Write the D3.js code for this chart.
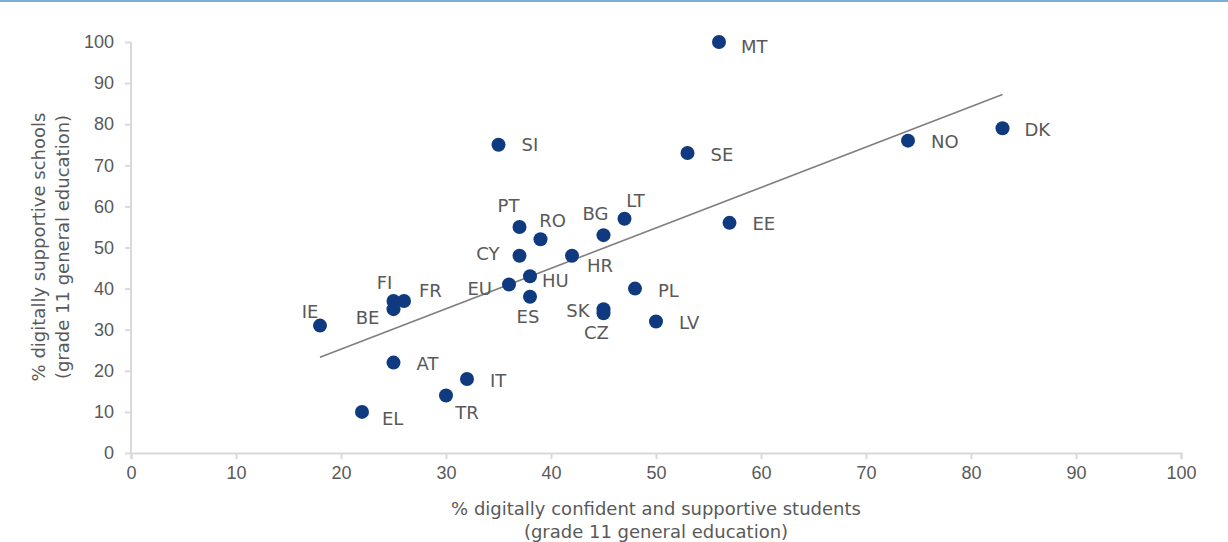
<!DOCTYPE html>
<html>
<head>
<meta charset="utf-8">
<script src="https://cdn.jsdelivr.net/npm/d3@7"></script>
<style>
  body { margin: 0; background: #fff; }
  svg { display: block; font-family: "DejaVu Sans", Verdana, sans-serif; }
  .c-axis path, .c-axis line { stroke: #d9d9d9; stroke-width: 2; }
  .c-axis text { fill: #595959; font-size: 18px; }
  .c-label { fill: #595959; font-size: 18px; }
  .c-title { fill: #595959; font-size: 18px; }
</style>
</head>
<body>
<div id="chart"></div>
<script>
// country codes and values
const countries = ['MT', 'DK', 'NO', 'SE', 'SI', 'EE', 'LT', 'BG', 'PT', 'RO', 'CY', 'HR', 'HU', 'EU',
  'ES', 'FI', 'FR', 'BE', 'IE', 'PL', 'SK', 'CZ', 'LV', 'AT', 'IT', 'TR', 'EL'];
const students = [56, 83, 74, 53, 35, 57, 47, 45, 37, 39, 37, 42, 38, 36,
  38, 25, 26, 25, 18, 48, 45, 45, 50, 25, 32, 30, 22];
const schools = [100, 79, 76, 73, 75, 56, 57, 53, 55, 52, 48, 48, 43, 41,
  38, 37, 37, 35, 31, 40, 35, 34, 32, 22, 18, 14, 10];
// linear trend line, from lowest to highest x
const trendX = [18, 83];
const trendY = [23.3, 87.2];
const xTicks = [0, 10, 20, 30, 40, 50, 60, 70, 80, 90, 100];
const yTicks = [0, 10, 20, 30, 40, 50, 60, 70, 80, 90, 100];

// where each label sits next to its dot (anchor, dx, dy in px)
const labelPlace = {
  MT: ['start', 22, 5], DK: ['start', 22, 1], NO: ['start', 23, 1], SE: ['start', 23, 2],
  SI: ['start', 23, 0], EE: ['start', 23, 1], LT: ['middle', 11, -18], BG: ['middle', -8, -21],
  PT: ['middle', -11, -21], RO: ['middle', 12, -19], CY: ['end', -20, -2], HR: ['middle', 28, 10],
  HU: ['start', 12, 4], EU: ['end', -17, 4], ES: ['middle', -2, 20], FI: ['middle', -9, -18],
  FR: ['start', 15, -10], BE: ['end', -14, 9], IE: ['middle', -10, -14], PL: ['start', 23, 2],
  SK: ['end', -14, 2], CZ: ['middle', -7, 19], LV: ['start', 23, 1], AT: ['start', 23, 1],
  IT: ['start', 23, 2], TR: ['middle', 21, 17], EL: ['start', 20, 7]
};

const chartWidth = 1228;
const chartHeight = 542;
const plotLeft = 131, plotRight = 1181, plotTop = 42, plotBottom = 453;

const svg = d3.select('#chart').append('svg')
  .attr('width', chartWidth)
  .attr('height', chartHeight);

// thin blue band at the top of the frame
svg.append('rect').attr('x', 0).attr('y', 0).attr('width', chartWidth).attr('height', 2).attr('fill', '#7bafd4');

const x = d3.scaleLinear().domain([0, 100]).range([plotLeft, plotRight]);
const y = d3.scaleLinear().domain([0, 100]).range([plotBottom, plotTop]);

svg.append('g')
  .attr('class', 'c-axis')
  .attr('transform', 'translate(0,' + plotBottom + ')')
  .call(d3.axisBottom(x).tickValues(xTicks).tickSize(6).tickPadding(5).tickSizeOuter(6))
  .call((g) => g.selectAll('text').attr('dy', '0.85em'));

svg.append('g')
  .attr('class', 'c-axis')
  .attr('transform', 'translate(' + plotLeft + ',0)')
  .call(d3.axisLeft(y).tickValues(yTicks).tickSize(6).tickPadding(11).tickSizeOuter(0))
  .call((g) => g.select('.domain').remove())
  .call((g) => g.append('line').attr('x1', 0).attr('x2', 0).attr('y1', plotTop).attr('y2', plotBottom).attr('stroke', '#d9d9d9').attr('stroke-width', 2));

// trend line
svg.append('line')
  .attr('x1', x(trendX[0])).attr('y1', y(trendY[0]))
  .attr('x2', x(trendX[1])).attr('y2', y(trendY[1]))
  .attr('stroke', '#7f7f7f')
  .attr('stroke-width', 1.6);

const points = countries.map((c, i) => ({ code: c, sx: students[i], sy: schools[i] }));

svg.append('g')
  .selectAll('circle')
  .data(points)
  .enter()
  .append('circle')
  .attr('cx', (d) => x(d.sx))
  .attr('cy', (d) => y(d.sy))
  .attr('r', 7)
  .attr('fill', '#0f3a80');

svg.append('g')
  .selectAll('text')
  .data(points)
  .enter()
  .append('text')
  .attr('class', 'c-label')
  .attr('x', (d) => x(d.sx) + labelPlace[d.code][1])
  .attr('y', (d) => y(d.sy) + labelPlace[d.code][2])
  .attr('dy', '0.35em')
  .attr('text-anchor', (d) => labelPlace[d.code][0])
  .text((d) => d.code);

// axis titles
const xTitle = svg.append('text')
  .attr('class', 'c-title')
  .attr('text-anchor', 'middle')
  .attr('x', 656)
  .attr('y', 515);
xTitle.append('tspan').attr('x', 656).text('% digitally confident and supportive students');
xTitle.append('tspan').attr('x', 656).attr('dy', 23).text('(grade 11 general education)');

const yTitle = svg.append('text')
  .attr('class', 'c-title')
  .attr('text-anchor', 'middle')
  .attr('transform', 'translate(45,247) rotate(-90)');
yTitle.append('tspan').attr('x', 0).text('% digitally supportive schools');
yTitle.append('tspan').attr('x', 0).attr('dy', 24).text('(grade 11 general education)');
</script>
</body>
</html>
